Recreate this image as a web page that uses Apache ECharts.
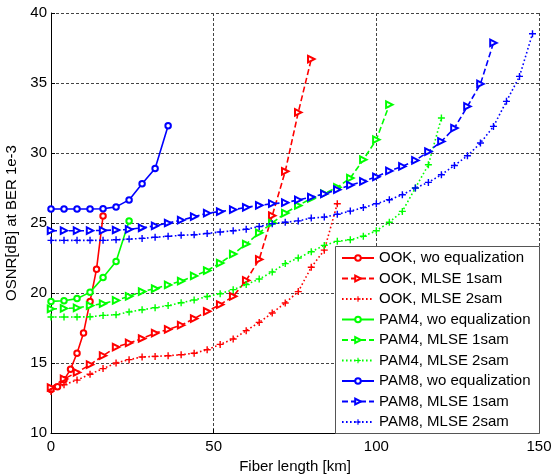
<!DOCTYPE html>
<html>
<head>
<meta charset="utf-8">
<script src="https://cdn.jsdelivr.net/npm/echarts@6/dist/echarts.min.js"></script>
<style>
html, body { margin: 0; padding: 0; background: #fff; }
#chart { width: 553px; height: 475px; }
</style>
</head>
<body>
<div id="chart"></div>
<script>
// Fiber length [km] sample points and required OSNR [dB] at BER 1e-3

const ookWoKm = [0, 2, 4, 6, 8, 10, 12, 14, 16];
const ookWo = [13.1, 13.3, 13.8, 14.55, 15.7, 17.15, 19.4, 21.7, 25.5];

const ook1Km = [0, 4, 8, 12, 16, 20, 24, 28, 32, 36, 40, 44, 48, 52, 56, 60, 64, 68, 72, 76, 80];
const ook1 = [13.25, 13.86, 14.33, 14.88, 15.52, 16.14, 16.43, 16.75, 17.14, 17.4, 17.7, 18.17, 18.69, 19.17, 19.76, 20.9, 22.4, 25.52, 28.69, 32.9, 36.71];

const ook2Km = [0, 4, 8, 12, 16, 20, 24, 28, 32, 36, 40, 44, 48, 52, 56, 60, 64, 68, 72, 76, 80, 84, 88];
const ook2 = [12.97, 13.45, 13.78, 14.2, 14.6, 15.0, 15.24, 15.43, 15.47, 15.52, 15.59, 15.7, 15.95, 16.33, 16.71, 17.31, 17.9, 18.57, 19.29, 20.1, 21.84, 23.06, 26.38];

const pam4WoKm = [0, 4, 8, 12, 16, 20, 24];
const pam4Wo = [19.4, 19.45, 19.6, 20.05, 21.1, 22.25, 25.15];

const pam41Km = [0, 4, 8, 12, 16, 20, 24, 28, 32, 36, 40, 44, 48, 52, 56, 60, 64, 68, 72, 76, 80, 84, 88, 92, 96, 100, 104];
const pam41 = [18.86, 18.9, 18.93, 19.1, 19.24, 19.47, 19.76, 20.1, 20.32, 20.58, 20.85, 21.22, 21.6, 22.14, 22.78, 23.5, 24.3, 25.0, 25.71, 26.25, 26.75, 27.1, 27.55, 28.21, 29.52, 30.95, 33.45];

const pam42Km = [0, 4, 8, 12, 16, 20, 24, 28, 32, 36, 40, 44, 48, 52, 56, 60, 64, 68, 72, 76, 80, 84, 88, 92, 96, 100, 104, 108, 112, 116, 120];
const pam42 = [18.29, 18.29, 18.29, 18.3, 18.4, 18.45, 18.65, 18.8, 18.95, 19.1, 19.3, 19.5, 19.75, 19.95, 20.24, 20.6, 21.0, 21.5, 22.1, 22.5, 22.95, 23.4, 23.69, 23.8, 24.05, 24.45, 25.05, 25.83, 27.5, 29.16, 32.5];

const pam8WoKm = [0, 4, 8, 12, 16, 20, 24, 28, 32, 36];
const pam8Wo = [26, 26, 26, 26, 26.02, 26.15, 26.65, 27.8, 28.9, 31.95];

const pam81Km = [0, 4, 8, 12, 16, 20, 24, 28, 32, 36, 40, 44, 48, 52, 56, 60, 64, 68, 72, 76, 80, 84, 88, 92, 96, 100, 104, 108, 112, 116, 120, 124, 128, 132, 136];
const pam81 = [24.45, 24.45, 24.45, 24.45, 24.47, 24.5, 24.54, 24.66, 24.8, 25.0, 25.2, 25.45, 25.7, 25.82, 25.95, 26.12, 26.26, 26.38, 26.45, 26.65, 26.85, 27.08, 27.38, 27.7, 27.97, 28.3, 28.72, 29.04, 29.47, 30.1, 30.83, 31.78, 33.33, 34.93, 37.86];

const pam82Km = [0, 4, 8, 12, 16, 20, 24, 28, 32, 36, 40, 44, 48, 52, 56, 60, 64, 68, 72, 76, 80, 84, 88, 92, 96, 100, 104, 108, 112, 116, 120, 124, 128, 132, 136, 140, 144, 148];
const pam82 = [23.76, 23.76, 23.76, 23.76, 23.76, 23.8, 23.85, 23.9, 23.98, 24.05, 24.12, 24.16, 24.25, 24.36, 24.45, 24.55, 24.75, 24.95, 25.05, 25.15, 25.35, 25.42, 25.62, 25.85, 26.1, 26.38, 26.66, 27.02, 27.5, 27.9, 28.45, 29.11, 29.8, 30.71, 31.9, 33.69, 35.47, 38.52];

const seriesNames = [
  'OOK, wo equalization', 'OOK, MLSE 1sam', 'OOK, MLSE 2sam',
  'PAM4, wo equalization', 'PAM4, MLSE 1sam', 'PAM4, MLSE 2sam',
  'PAM8, wo equalization', 'PAM8, MLSE 1sam', 'PAM8, MLSE 2sam'
];

const xTicks = [0, 50, 100, 150];
const yTicks = [10, 15, 20, 25, 30, 35, 40];

const FONT = 'Liberation Sans, Arial, sans-serif';
const PLUS = 'path://M4,0H6V4H10V6H6V10H4V6H0V4H4Z';

const RED = '#ff0000', GREEN = '#00ff00', BLUE = '#0000ff';

function pairs(xs, ys) { return xs.map((x, i) => [x, ys[i]]); }

// kind: 0 = no equalization (solid, circle), 1 = MLSE 1sam (dashed, right triangle), 2 = MLSE 2sam (dotted, plus)
function makeSeries(name, xs, ys, color, kind) {
  const s = {
    name: name,
    type: 'line',
    data: pairs(xs, ys),
    showSymbol: true,
    animation: false,
    lineStyle: { color: color, width: 1.6 },
    itemStyle: { color: color, borderColor: color, borderWidth: 1.3 },
    emphasis: { disabled: true }
  };
  if (kind === 0) {
    s.symbol = 'emptyCircle';
    s.symbolSize = 5.5;
    s.lineStyle.type = 'solid';
  } else if (kind === 1) {
    s.symbol = 'emptyTriangle';
    s.symbolSize = 6.5;
    s.symbolRotate = -90;
    s.lineStyle.type = [6, 3];
  } else {
    s.symbol = PLUS;
    s.symbolSize = 7;
    s.itemStyle.borderWidth = 0;
    s.lineStyle.type = [1.6, 2.4];
  }
  return s;
}

const series = [
  makeSeries(seriesNames[0], ookWoKm, ookWo, RED, 0),
  makeSeries(seriesNames[1], ook1Km, ook1, RED, 1),
  makeSeries(seriesNames[2], ook2Km, ook2, RED, 2),
  makeSeries(seriesNames[3], pam4WoKm, pam4Wo, GREEN, 0),
  makeSeries(seriesNames[4], pam41Km, pam41, GREEN, 1),
  makeSeries(seriesNames[5], pam42Km, pam42, GREEN, 2),
  makeSeries(seriesNames[6], pam8WoKm, pam8Wo, BLUE, 0),
  makeSeries(seriesNames[7], pam81Km, pam81, BLUE, 1),
  makeSeries(seriesNames[8], pam82Km, pam82, BLUE, 2)
];

const gridLine = { show: true, lineStyle: { color: '#444', width: 1, type: [3, 2] } };

const chart = echarts.init(document.getElementById('chart'), null, { renderer: 'canvas' });
chart.setOption({
  animation: false,
  backgroundColor: '#fff',
  grid: { left: 51, right: 14, top: 13, bottom: 42, containLabel: false, outerBoundsMode: 'none' },
  xAxis: {
    type: 'value',
    min: xTicks[0], max: xTicks[xTicks.length - 1], interval: 50,
    name: 'Fiber length [km]',
    nameLocation: 'middle',
    nameGap: 22,
    nameTextStyle: { fontFamily: FONT, fontSize: 15, color: '#000', verticalAlign: 'top' },
    axisLine: { show: true, onZero: false, lineStyle: { color: '#000', width: 1 } },
    axisTick: { show: true, inside: true, length: 4, lineStyle: { color: '#000' } },
    axisLabel: { fontFamily: FONT, fontSize: 15, color: '#000', margin: 6 },
    splitLine: gridLine
  },
  yAxis: {
    type: 'value',
    min: yTicks[0], max: yTicks[yTicks.length - 1], interval: 5,
    name: 'OSNR[dB] at BER 1e-3',
    nameLocation: 'middle',
    nameGap: 30,
    nameRotate: 90,
    nameTextStyle: { fontFamily: FONT, fontSize: 15, color: '#000' },
    axisLine: { show: true, onZero: false, lineStyle: { color: '#000', width: 1 } },
    axisTick: { show: true, inside: true, length: 4, lineStyle: { color: '#000' } },
    axisLabel: { fontFamily: FONT, fontSize: 15, color: '#000', margin: 4 },
    splitLine: gridLine
  },
  legend: {
    data: seriesNames,
    orient: 'vertical',
    left: 341,
    top: 250,
    padding: 0,
    itemWidth: 32,
    itemHeight: 7,
    itemGap: 4.5,
    z: 20,
    selectedMode: false,
    textStyle: { fontFamily: FONT, fontSize: 15, color: '#000', lineHeight: 16 }
  },
  graphic: [{
    type: 'rect',
    z: 10,
    shape: { x: 335.5, y: 246.5, width: 204, height: 187 },
    style: { fill: '#fff', stroke: '#555', lineWidth: 1 }
  }],
  series: series
});
</script>
</body>
</html>
